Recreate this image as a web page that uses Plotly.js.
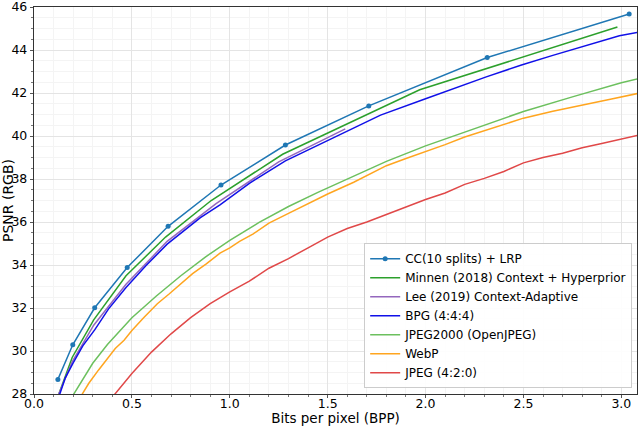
<!DOCTYPE html>
<html>
<head>
<meta charset="utf-8">
<script src="https://cdn.plot.ly/plotly-3.0.1.min.js"></script>
<style>
  html, body { margin: 0; padding: 0; background: #fff; }
  #plot { width: 640px; height: 426px; }
</style>
</head>
<body>
<div id="plot"></div>
<script>
// values
const ccBpp = [0.122, 0.198, 0.31, 0.476, 0.685, 0.955, 1.284, 1.71, 2.315, 3.04];
const ccPsnr = [28.68, 30.29, 32.01, 33.88, 35.8, 37.72, 39.58, 41.4, 43.65, 45.67];

const minnenBpp = [0.125, 0.195, 0.305, 0.47, 0.672, 0.905, 1.27, 1.97, 2.98];
const minnenPsnr = [27.95, 29.7, 31.45, 33.5, 35.3, 37.0, 39.15, 42.15, 45.07];

const leeBpp = [0.122, 0.195, 0.305, 0.47, 0.68, 0.93, 1.25, 1.59];
const leePsnr = [27.9, 29.5, 31.2, 33.1, 35.1, 36.85, 38.8, 40.33];

const bpgBpp = [0.13, 0.16, 0.2, 0.25, 0.31, 0.38, 0.47, 0.57, 0.68, 0.85, 0.95, 1.1, 1.284, 1.464, 1.77, 2.0, 2.31, 2.49, 2.65, 2.99, 3.1];
const bpgPsnr = [27.95, 28.75, 29.45, 30.25, 30.98, 31.95, 32.95, 33.95, 34.97, 36.2, 36.8, 37.8, 38.84, 39.64, 40.97, 41.73, 42.75, 43.3, 43.75, 44.66, 44.85];

const j2kBpp = [0.2, 0.25, 0.3, 0.375, 0.5, 0.625, 0.75, 0.875, 1.0, 1.15, 1.3, 1.45, 1.6, 1.8, 2.0, 2.25, 2.5, 2.75, 3.0, 3.1];
const j2kPsnr = [27.95, 28.72, 29.43, 30.3, 31.55, 32.56, 33.5, 34.37, 35.15, 35.98, 36.72, 37.38, 38.0, 38.82, 39.54, 40.35, 41.14, 41.82, 42.48, 42.7];

const webpBpp = [0.24, 0.28, 0.33, 0.37, 0.415, 0.46, 0.5, 0.56, 0.63, 0.69, 0.75, 0.81, 0.88, 0.95, 1.0, 1.05, 1.12, 1.2, 1.3, 1.4, 1.5, 1.633, 1.7, 1.8, 1.9, 2.0, 2.1, 2.2, 2.315, 2.4, 2.5, 2.65, 2.8, 2.95, 3.1];
const webpPsnr = [27.9, 28.5, 29.12, 29.6, 30.12, 30.5, 30.95, 31.55, 32.2, 32.65, 33.12, 33.6, 34.05, 34.55, 34.8, 35.1, 35.45, 35.95, 36.4, 36.85, 37.3, 37.85, 38.15, 38.62, 38.95, 39.27, 39.6, 39.95, 40.28, 40.52, 40.83, 41.15, 41.45, 41.72, 42.01];

const jpegBpp = [0.4, 0.45, 0.5, 0.6, 0.7, 0.8, 0.9, 1.0, 1.1, 1.2, 1.3, 1.4, 1.5, 1.6, 1.7, 1.8, 1.9, 2.0, 2.1, 2.2, 2.3, 2.4, 2.5, 2.6, 2.7, 2.8, 2.9, 3.0, 3.1];
const jpegPsnr = [27.85, 28.4, 28.95, 29.95, 30.8, 31.55, 32.2, 32.75, 33.25, 33.85, 34.3, 34.8, 35.3, 35.7, 36.0, 36.35, 36.7, 37.05, 37.35, 37.75, 38.03, 38.35, 38.75, 39.0, 39.2, 39.45, 39.65, 39.87, 40.06];

const seriesNames = ['CC(10 splits) + LRP', 'Minnen (2018) Context + Hyperprior', 'Lee (2019) Context-Adaptive',
  'BPG (4:4:4)', 'JPEG2000 (OpenJPEG)', 'WebP', 'JPEG (4:2:0)'];
const seriesColors = ['#1f77b4', '#2ca02c', '#9467bd', '#1010e8', '#6cc05e', '#ffa51f', '#e04848'];
const seriesX = [ccBpp, minnenBpp, leeBpp, bpgBpp, j2kBpp, webpBpp, jpegBpp];
const seriesY = [ccPsnr, minnenPsnr, leePsnr, bpgPsnr, j2kPsnr, webpPsnr, jpegPsnr];

const font = 'DejaVu Sans, sans-serif';

const traces = seriesNames.map((name, i) => ({
    x: seriesX[i],
    y: seriesY[i],
    name,
    type: 'scatter',
    mode: i === 0 ? 'lines+markers' : 'lines',
    line: {color: seriesColors[i], width: 1.5},
    marker: {color: seriesColors[i], size: 5}
}));

const axisCommon = {
    showline: true,
    mirror: true,
    linecolor: '#333',
    linewidth: 1.2,
    ticks: 'outside',
    ticklen: 3,
    tickcolor: '#555',
    showgrid: true,
    gridcolor: '#e4e4e4',
    gridwidth: 1,
    zeroline: false,
    ticklabeloverflow: 'allow',
    tickfont: {family: font, size: 12.5, color: '#000'}
};

const layout = {
    width: 640,
    height: 426,
    margin: {l: 34, r: 3, t: 7, b: 32},
    paper_bgcolor: '#fff',
    plot_bgcolor: '#fff',
    font: {family: font, color: '#000'},
    showlegend: true,
    xaxis: Object.assign({}, axisCommon, {
        range: [0, 3.08],
        dtick: 0.5,
        tick0: 0,
        tickformat: '.1f',
        ticklabelstandoff: -5,
        minor: {dtick: 0.1, showgrid: true, gridcolor: '#f4f4f4', ticks: 'outside', ticklen: 2, tickcolor: '#777'},
        title: {text: 'Bits per pixel (BPP)', font: {family: font, size: 13.5, color: '#000'}, standoff: 3}
    }),
    yaxis: Object.assign({}, axisCommon, {
        range: [28, 46],
        dtick: 2,
        tick0: 28,
        minor: {dtick: 0.5, showgrid: true, gridcolor: '#f4f4f4', ticks: 'outside', ticklen: 2, tickcolor: '#777'},
        title: {text: 'PSNR (RGB)', font: {family: font, size: 14, color: '#000'}, standoff: 3}
    }),
    legend: {
        x: 0.992,
        y: 0.015,
        xanchor: 'right',
        yanchor: 'bottom',
        bgcolor: 'rgba(255,255,255,0.9)',
        bordercolor: '#cccccc',
        borderwidth: 1,
        font: {family: font, size: 12, color: '#000'},
        tracegroupgap: 0
    }
};

Plotly.newPlot('plot', traces, layout, {staticPlot: true});
</script>
</body>
</html>
